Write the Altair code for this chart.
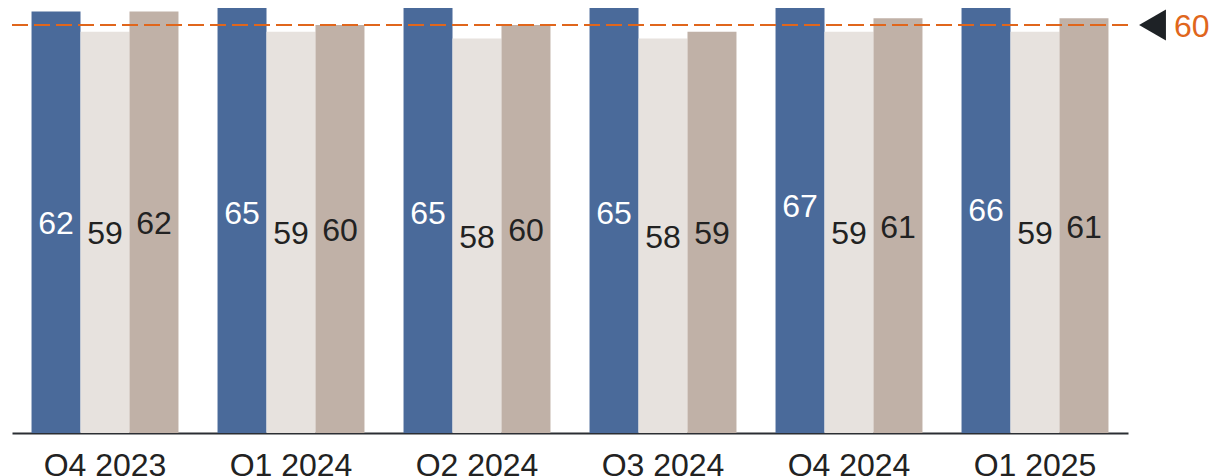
import altair as alt
import pandas as pd

quarters = ["Q4 2023", "Q1 2024", "Q2 2024", "Q3 2024", "Q4 2024", "Q1 2025"]
series = ["Series 1", "Series 2", "Series 3"]
series1_values = [62, 65, 65, 65, 67, 66]
series2_values = [59, 59, 58, 58, 59, 59]
series3_values = [62, 60, 60, 59, 61, 61]
reference_value = 60

bar_colors = ["#4a6a9a", "#e7e2de", "#c0b1a7"]
orange = "#e0661c"
font = "Liberation Sans"

rows = []
for vals, s in zip([series1_values, series2_values, series3_values], series):
    for q, v in zip(quarters, vals):
        rows.append({"quarter": q, "series": s, "value": v})
df = pd.DataFrame(rows)
ref_df = pd.DataFrame({"ref": [reference_value], "label": [str(reference_value)]})

yscale = alt.Scale(domain=[0, 62.5], nice=False, zero=True)

x_enc = alt.X(
    "quarter:N",
    sort=quarters,
    scale=alt.Scale(paddingInner=0.21, paddingOuter=0.105),
    axis=alt.Axis(
        title=None,
        labelAngle=0,
        ticks=False,
        grid=False,
        domainColor="#2b2e33",
        domainWidth=2,
        labelFontSize=32,
        labelFont=font,
        labelColor="#222222",
        labelPadding=17,
    ),
)
xo_enc = alt.XOffset("series:N", sort=series, scale=alt.Scale(paddingInner=0, paddingOuter=0))

base = alt.Chart(df)

bars = base.mark_bar(clip=True).encode(
    x=x_enc,
    xOffset=xo_enc,
    y=alt.Y("value:Q", scale=yscale, axis=None),
    color=alt.Color("series:N", sort=series, scale=alt.Scale(domain=series, range=bar_colors), legend=None),
)

labels = base.transform_calculate(half="datum.value / 2").mark_text(
    fontSize=32, font=font, baseline="middle", align="center", dy=2
).encode(
    x=x_enc,
    xOffset=xo_enc,
    y=alt.Y("half:Q", scale=yscale, axis=None),
    text=alt.Text("value:Q"),
    color=alt.condition(alt.datum.series == series[0], alt.value("white"), alt.value("#222222")),
)

ref_base = alt.Chart(ref_df)
rule = ref_base.mark_rule(color=orange, strokeWidth=2, strokeDash=[16, 6]).encode(
    y=alt.Y("ref:Q", scale=yscale, axis=None)
)
tri = ref_base.mark_point(shape="triangle-left", size=961, filled=True, color="#1e2226", opacity=1).encode(
    y=alt.Y("ref:Q", scale=yscale, axis=None),
    x=alt.value({"expr": "width + 24.5"}),
)
ref_text = ref_base.mark_text(fontSize=32, font=font, color=orange, align="left", baseline="middle", dy=2).encode(
    y=alt.Y("ref:Q", scale=yscale, axis=None),
    x=alt.value({"expr": "width + 46"}),
    text="label:N",
)

chart = (
    alt.layer(bars, labels, rule, tri, ref_text)
    .properties(
        width=1116,
        height=425,
        autosize=alt.AutoSizeParams(type="none"),
        padding={"top": 0, "left": 4, "right": 81, "bottom": 55},
    )
    .configure_view(strokeWidth=0)
)

chart.save("out.html", embed_options={"renderer": "svg", "actions": False})
